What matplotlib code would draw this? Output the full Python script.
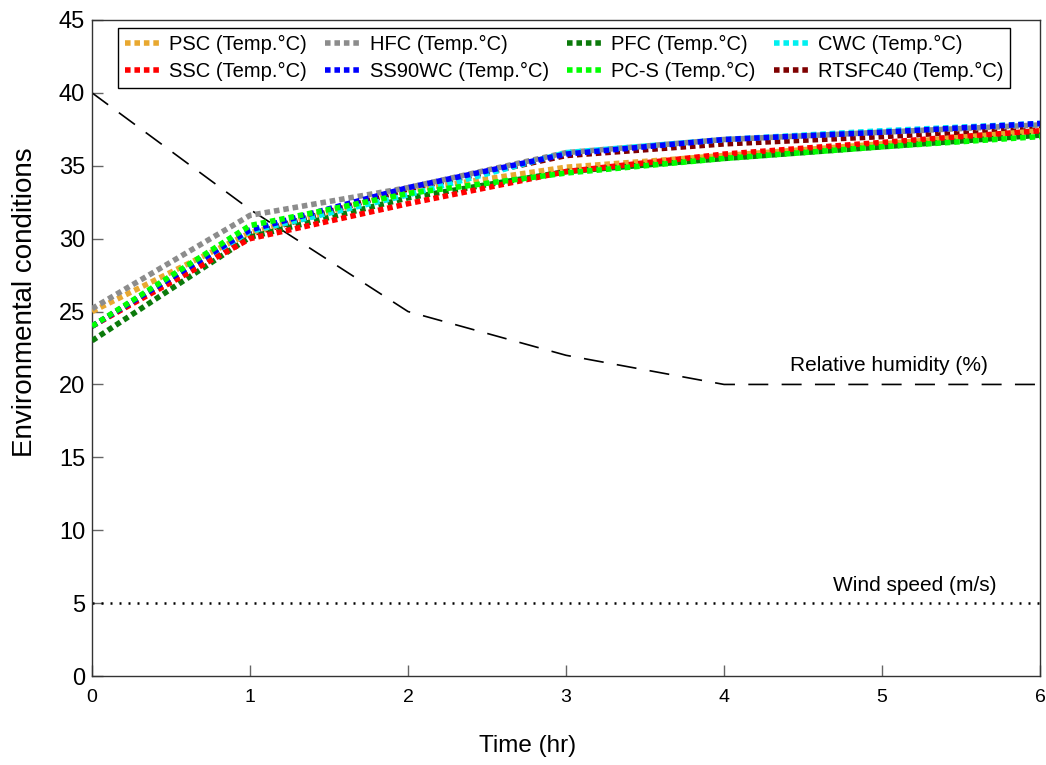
import matplotlib
matplotlib.use("Agg")
import matplotlib.pyplot as plt

plt.rcParams['font.family'] = ['Liberation Sans', 'DejaVu Sans']

# Time axis (hours)
time_hr = [0, 1, 2, 3, 4, 5, 6]

# Temperature series (°C)
psc = [25.0, 30.4, 33.3, 34.9, 35.7, 36.5, 37.4]
hfc = [25.2, 31.6, 33.5, 35.9, 36.8, 37.3, 37.8]
pfc = [23.0, 30.1, 32.8, 34.6, 35.5, 36.3, 37.1]
cwc = [24.0, 30.5, 33.0, 35.9, 36.8, 37.4, 37.9]
ssc = [24.0, 30.0, 32.4, 34.6, 35.8, 36.6, 37.4]
ss90wc = [24.0, 30.6, 33.5, 35.8, 36.8, 37.3, 37.9]
pcs = [24.0, 30.9, 33.1, 34.5, 35.5, 36.3, 37.0]
rtsfc40 = [24.0, 30.3, 33.4, 35.7, 36.5, 37.0, 37.6]

# Ambient conditions
humidity = [40, 32, 25, 22, 20, 20, 20]
wind = [5, 5, 5, 5, 5, 5, 5]

series_names = ["PSC (Temp.°C)", "HFC (Temp.°C)", "PFC (Temp.°C)", "CWC (Temp.°C)",
                "SSC (Temp.°C)", "SS90WC (Temp.°C)", "PC-S (Temp.°C)", "RTSFC40 (Temp.°C)"]
series_values = [psc, hfc, pfc, cwc, ssc, ss90wc, pcs, rtsfc40]
series_colors = ["#E8A830", "#8C8C8C", "#0B7A0B", "#00F0F0",
                 "#FF0000", "#0000FF", "#00FF00", "#7F0000"]
series_z = [3, 3, 3, 3, 3, 3.2, 3.3, 2.9]

fig = plt.figure(figsize=(10.46, 7.65), dpi=100)
ax = fig.add_axes([0.088, 0.1163, 0.9063, 0.8576])

handles = {}
for name, vals, col, z in zip(series_names, series_values, series_colors, series_z):
    h, = ax.plot(time_hr, vals, color=col, lw=4, linestyle=(0, (1, 0.7)),
                 dash_capstyle='butt', label=name, zorder=z)
    handles[name] = h

ax.plot(time_hr, humidity, color='black', lw=1.2, linestyle=(0, (12, 8)))
ax.plot(time_hr, wind, color='black', lw=1.8, linestyle=(0, (0.8, 2.8)))

ax.text(4.42, 21.3, "Relative humidity (%)", fontsize=15, va='center', ha='left')
ax.text(4.69, 6.2, "Wind speed (m/s)", fontsize=15, va='center', ha='left')

ax.set_xlim(0, 6)
ax.set_ylim(0, 45)
ax.set_xticks(range(0, 7))
ax.set_yticks(range(0, 46, 5))
ax.tick_params(axis='x', direction='in', length=8, width=1, color='#666666',
               labelsize=14, pad=9)
ax.tick_params(axis='y', direction='in', length=8, width=1, color='#666666',
               labelsize=17, pad=5)
for s in ax.spines.values():
    s.set_color('#333333')
    s.set_linewidth(1.0)

ax.set_xlabel("Time (hr)", fontsize=17.5)
ax.set_ylabel("Environmental conditions", fontsize=20)
ax.xaxis.set_label_coords(0.459, -0.09)
ax.yaxis.set_label_coords(-0.057, 0.57)

order = ["PSC (Temp.°C)", "SSC (Temp.°C)", "HFC (Temp.°C)", "SS90WC (Temp.°C)",
         "PFC (Temp.°C)", "PC-S (Temp.°C)", "CWC (Temp.°C)", "RTSFC40 (Temp.°C)"]
leg = ax.legend([handles[n] for n in order], order, ncol=4, loc='upper left',
                bbox_to_anchor=(0.0274, 0.988), fontsize=14.5, handlelength=1.8,
                handletextpad=0.4, columnspacing=0.9, labelspacing=0.4,
                borderpad=0.35, fancybox=False, framealpha=1, edgecolor='black',
                borderaxespad=0)
leg.get_frame().set_linewidth(1.0)

fig.savefig("out.png", dpi=100)
